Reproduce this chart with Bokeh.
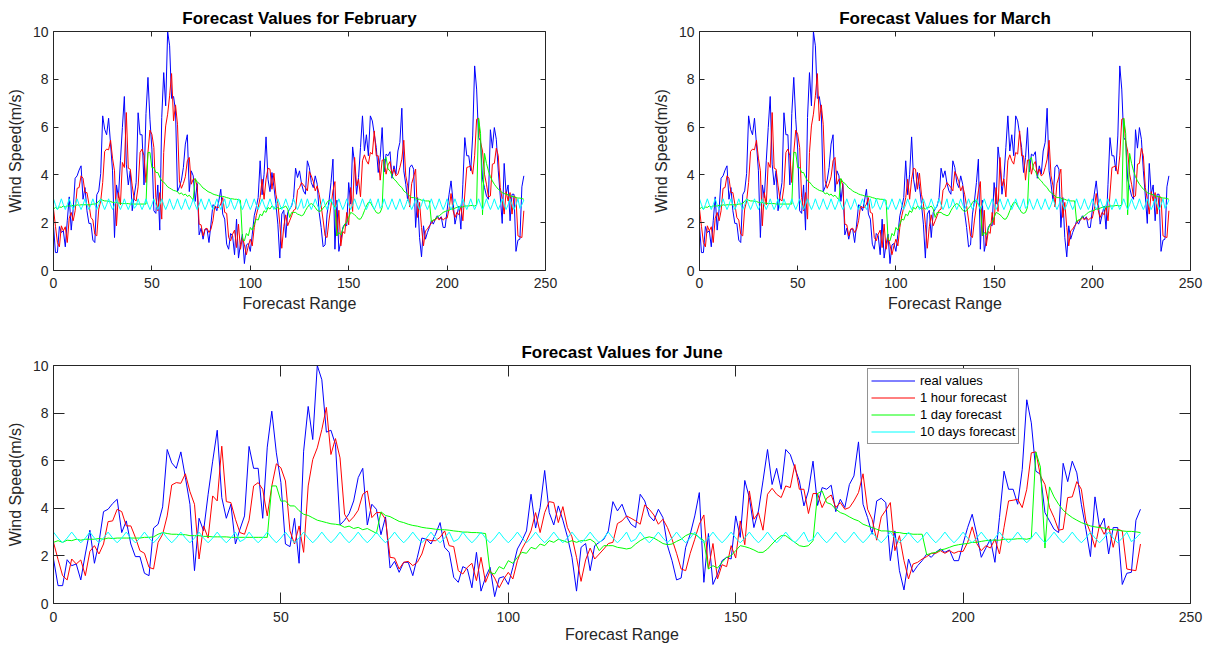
from bokeh.plotting import figure
from bokeh.models import Range1d, LinearAxis, FixedTicker, Legend, LegendItem, CustomJSTickFormatter
from bokeh.layouts import column, row
from bokeh.embed import file_html
from bokeh.resources import INLINE

steps = list(range(240))

real_values = [
    1.87, 0.75, 0.75, 1.84, 1.59, 1.66, 0.99, 2.08, 3.08, 1.69,
    2.57, 3.86, 3.96, 4.20, 4.38, 2.98, 3.47, 2.50, 1.97, 1.97,
    1.27, 1.17, 3.17, 3.33, 4.06, 6.47, 5.91, 5.68, 6.37, 5.29,
    4.17, 1.38, 3.58, 3.05, 4.59, 5.98, 7.28, 4.45, 3.58, 4.17,
    2.50, 3.12, 3.68, 6.60, 5.68, 5.68, 3.58, 6.57, 8.08, 6.33,
    5.08, 2.50, 2.39, 3.58, 1.69, 6.40, 8.28, 6.89, 10.0, 9.40,
    7.20, 7.28, 6.68, 3.30, 3.50, 3.78, 4.31, 5.29, 5.68, 3.30,
    4.17, 3.96, 2.89, 3.64, 1.49, 1.77, 1.31, 1.73, 1.73, 1.17,
    1.94, 2.75, 2.70, 2.50, 2.91, 3.40, 2.36, 2.15, 1.10, 0.89,
    1.55, 1.45, 0.66, 2.15, 0.52, 1.10, 1.52, 0.29, 1.07, 1.13,
    0.80, 1.52, 2.29, 2.64, 3.05, 4.59, 3.17, 4.03, 5.59, 3.82,
    3.30, 4.10, 3.50, 2.80, 1.94, 0.52, 2.36, 2.52, 1.38, 2.43,
    2.57, 2.70, 3.05, 4.28, 3.89, 4.17, 3.65, 3.33, 3.19, 4.59,
    4.31, 3.68, 3.47, 3.96, 3.61, 2.43, 1.80, 0.99, 1.07, 2.36,
    2.91, 3.68, 4.66, 0.89, 2.94, 0.80, 1.24, 1.80, 1.94, 1.87,
    3.68, 2.78, 5.17, 4.45, 3.19, 3.89, 5.15, 6.47, 5.00, 5.68,
    4.80, 6.47, 6.26, 5.70, 5.15, 4.10, 4.73, 5.98, 4.12, 4.87,
    4.80, 4.97, 3.86, 4.38, 4.03, 5.00, 5.36, 6.79, 4.17, 3.61,
    2.91, 4.31, 4.42, 4.24, 1.80, 3.05, 1.38, 0.57, 1.87, 1.31,
    1.59, 1.80, 2.08, 1.94, 2.15, 2.29, 2.15, 2.25, 1.80, 1.80,
    2.52, 3.19, 3.75, 2.91, 1.94, 2.33, 2.70, 1.73, 3.61, 5.56,
    4.80, 4.80, 4.17, 5.63, 8.56, 7.59, 5.56, 5.43, 3.82, 3.47,
    3.12, 2.98, 5.89, 5.12, 5.98, 5.49, 4.17, 3.12, 1.97, 4.48,
    3.19, 3.58, 2.08, 3.19, 3.19, 0.80, 1.27, 1.31, 3.50, 3.96,
]

hour_forecast = [
    2.57, 1.85, 1.17, 0.99, 1.87, 1.66, 1.83, 1.17, 2.19, 2.43,
    2.08, 2.50, 3.44, 3.47, 3.96, 3.86, 3.26, 3.26, 2.78, 2.22,
    2.11, 1.52, 1.45, 2.57, 2.91, 3.68, 4.98, 5.08, 5.05, 5.45,
    4.70, 4.17, 1.87, 3.26, 2.75, 4.52, 4.31, 6.61, 4.28, 4.24,
    3.54, 2.98, 2.91, 3.50, 4.94, 5.08, 4.80, 3.68, 4.94, 5.87,
    5.70, 5.15, 3.05, 2.50, 3.26, 2.15, 4.94, 6.05, 6.54, 7.31,
    8.24, 6.26, 6.93, 6.12, 3.75, 3.44, 3.64, 3.92, 4.59, 4.73,
    3.61, 3.82, 3.82, 3.54, 1.94, 1.91, 1.45, 1.73, 1.77, 1.59,
    1.73, 2.08, 2.70, 2.64, 2.64, 2.78, 3.05, 2.43, 2.39, 1.38,
    1.24, 1.52, 1.69, 0.96, 1.94, 0.89, 1.38, 1.07, 0.66, 1.03,
    1.31, 1.03, 1.80, 2.29, 2.64, 3.05, 3.82, 2.98, 3.82, 4.28,
    4.24, 3.40, 4.07, 3.19, 2.80, 1.94, 0.93, 1.83, 2.33, 1.87,
    2.08, 2.29, 2.52, 2.57, 3.36, 3.47, 3.68, 3.58, 3.47, 3.33,
    4.14, 3.96, 3.72, 3.33, 3.54, 3.19, 2.70, 2.11, 1.45, 1.38,
    2.11, 2.70, 3.33, 3.72, 1.45, 2.52, 1.03, 1.63, 1.55, 2.43,
    1.91, 3.47, 2.47, 4.73, 3.54, 3.82, 3.08, 4.59, 4.84, 4.59,
    4.45, 4.94, 4.87, 5.84, 4.80, 4.80, 3.78, 4.62, 4.62, 4.03,
    4.42, 4.56, 4.03, 4.24, 3.96, 4.03, 4.31, 4.66, 5.45, 3.96,
    3.54, 2.66, 3.64, 3.92, 4.24, 2.22, 2.85, 1.80, 1.03, 1.66,
    1.73, 1.87, 1.97, 2.11, 2.11, 2.22, 2.11, 2.22, 2.11, 2.19,
    2.19, 2.57, 3.22, 2.52, 2.22, 2.43, 2.33, 2.70, 2.08, 3.20,
    4.31, 4.34, 4.38, 4.03, 4.80, 6.33, 6.37, 5.36, 5.00, 4.03,
    3.61, 3.08, 3.12, 4.45, 4.48, 5.12, 4.80, 3.47, 2.98, 2.36,
    3.30, 2.91, 3.26, 2.36, 3.12, 3.05, 1.45, 1.41, 1.38, 2.50,
]

day_forecast = [
    2.57, 2.64, 2.57, 2.66, 2.64, 2.70, 2.66, 2.70, 2.70, 2.70,
    2.73, 2.70, 2.75, 2.73, 2.75, 2.75, 2.75, 2.75, 2.75, 2.75,
    2.78, 2.78, 2.80, 2.91, 2.98, 2.94, 2.91, 2.91, 2.89, 2.89,
    2.85, 2.85, 2.85, 2.82, 2.82, 2.80, 2.80, 2.80, 2.80, 2.78,
    2.78, 2.78, 2.78, 2.78, 2.78, 2.78, 2.78, 2.78, 4.94, 4.94,
    4.30, 4.31, 4.10, 4.10, 3.90, 3.75, 3.70, 3.60, 3.50, 3.45,
    3.40, 3.35, 3.33, 3.30, 3.20, 3.25, 3.15, 3.20, 3.10, 3.15,
    3.05, 2.95, 3.85, 3.70, 3.65, 3.55, 3.45, 3.40, 3.33, 3.28,
    3.25, 3.20, 3.17, 3.15, 3.12, 3.10, 3.10, 3.08, 3.05, 3.03,
    3.00, 3.00, 2.98, 2.98, 2.96, 2.94, 1.30, 1.24, 1.55, 1.45,
    1.80, 1.69, 1.94, 2.15, 2.11, 2.36, 2.29, 2.50, 2.43, 2.64,
    2.57, 2.70, 2.64, 2.57, 2.64, 2.57, 2.64, 2.64, 2.70, 2.57,
    2.22, 2.43, 2.43, 2.43, 2.36, 2.33, 2.29, 2.33, 2.50, 2.64,
    2.75, 2.80, 2.75, 2.64, 2.52, 2.47, 2.50, 2.61, 2.70, 2.85,
    2.94, 2.91, 2.78, 2.64, 1.45, 1.59, 1.49, 1.73, 1.94, 2.01,
    2.22, 2.43, 2.39, 2.33, 2.25, 2.15, 2.15, 2.29, 2.50, 2.70,
    2.85, 2.85, 2.70, 2.57, 2.43, 2.39, 2.43, 2.64, 4.62, 4.73,
    4.24, 4.17, 3.96, 3.82, 3.75, 3.64, 3.54, 3.47, 3.33, 3.26,
    3.19, 3.12, 3.05, 3.05, 3.03, 2.98, 2.98, 2.94, 2.94, 2.91,
    2.91, 2.91, 2.05, 2.11, 2.15, 2.25, 2.29, 2.36, 2.43, 2.47,
    2.50, 2.52, 2.57, 2.57, 2.61, 2.64, 2.66, 2.66, 2.66, 2.70,
    2.70, 2.70, 2.72, 2.72, 2.70, 2.75, 6.37, 5.73, 2.33, 4.90,
    4.48, 4.17, 3.92, 3.75, 3.61, 3.50, 3.40, 3.33, 3.26, 3.22,
    3.19, 3.17, 3.12, 3.10, 3.08, 3.05, 3.03, 3.03, 3.01, 2.98,
]

ten_day_forecast = [
    3.00, 2.75, 2.55, 2.75, 3.00, 2.75, 2.55, 2.75, 3.00, 2.75,
    2.55, 2.75, 3.00, 2.75, 2.55, 2.75, 3.00, 2.75, 2.55, 2.75,
    3.00, 2.75, 2.55, 2.75, 3.00, 2.75, 2.55, 2.75, 3.00, 2.75,
    2.55, 2.75, 3.00, 2.75, 2.55, 2.75, 3.00, 2.75, 2.55, 2.75,
    3.00, 2.60, 2.70, 3.00, 2.75, 2.55, 2.75, 3.00, 2.75, 2.55,
    2.75, 3.00, 2.75, 2.55, 2.75, 3.00, 2.75, 2.55, 2.75, 3.00,
    2.75, 2.55, 2.75, 3.00, 2.75, 2.55, 2.75, 3.00, 2.75, 2.55,
    2.75, 3.00, 2.75, 2.55, 2.75, 3.00, 2.75, 2.55, 2.75, 3.00,
    2.75, 2.55, 2.75, 3.00, 2.75, 2.55, 2.75, 3.00, 2.60, 2.70,
    3.00, 2.75, 2.55, 2.75, 3.00, 2.75, 2.55, 2.75, 3.00, 2.75,
    2.55, 2.75, 3.00, 2.75, 2.55, 2.75, 3.00, 2.75, 2.55, 2.75,
    3.00, 2.75, 2.55, 2.75, 3.00, 2.75, 2.55, 2.75, 3.00, 2.75,
    2.55, 2.75, 3.00, 2.75, 2.55, 2.75, 3.00, 2.60, 2.70, 3.00,
    2.75, 2.55, 2.75, 3.00, 2.75, 2.55, 2.75, 3.00, 2.75, 2.55,
    2.75, 3.00, 2.75, 2.55, 2.75, 3.00, 2.75, 2.55, 2.75, 3.00,
    2.75, 2.55, 2.75, 3.00, 2.75, 2.55, 2.75, 3.00, 2.75, 2.55,
    2.75, 3.00, 2.75, 2.55, 2.75, 3.00, 2.60, 2.70, 3.00, 2.75,
    2.55, 2.75, 3.00, 2.75, 2.55, 2.75, 3.00, 2.75, 2.55, 2.75,
    3.00, 2.75, 2.55, 2.75, 3.00, 2.75, 2.55, 2.75, 3.00, 2.75,
    2.55, 2.75, 3.00, 2.75, 2.55, 2.75, 3.00, 2.75, 2.55, 2.75,
    3.00, 2.75, 2.55, 2.75, 3.00, 2.75, 2.55, 2.75, 3.00, 2.75,
    2.55, 2.75, 3.00, 2.75, 2.55, 2.75, 3.00, 2.75, 2.55, 2.75,
    3.00, 2.75, 2.55, 2.75, 3.00, 2.75, 2.55, 2.75, 3.00, 2.75,
    2.55, 2.75, 3.00, 2.75, 2.55, 2.75, 3.00, 2.60, 2.75, 2.95,
]

titles = ["Forecast Values for February", "Forecast Values for March", "Forecast Values for June"]
series_names = ["real values", "1 hour forecast", "1 day forecast", "10 days forecast"]
series_colors = ["#0000FF", "#FF0000", "#00FF00", "#00FFFF"]
x_ticks = [0, 50, 100, 150, 200, 250]
y_ticks = [0, 2, 4, 6, 8, 10]

FONT = "Liberation Sans"
AX = "#262626"


def style_axis(ax, ticks, tick_len, standoff=5, labels=True):
    ax.ticker = FixedTicker(ticks=ticks)
    ax.major_tick_in = tick_len
    ax.major_tick_out = 0
    ax.minor_tick_in = 0
    ax.minor_tick_out = 0
    ax.minor_tick_line_color = None
    ax.axis_line_color = AX
    ax.axis_line_width = 1
    ax.major_tick_line_color = AX
    ax.major_tick_line_width = 1
    if labels:
        ax.major_label_text_font = FONT
        ax.major_label_text_font_size = "14px"
        ax.major_label_text_color = AX
        ax.major_label_standoff = standoff
    else:
        ax.formatter = CustomJSTickFormatter(code="return ''")
        ax.major_label_text_font_size = "0px"
        ax.major_label_standoff = 0


def make_panel(title, width, height, bl, br, bt, bb, tick_len, xstand, xlab_stand):
    p = figure(width=width, height=height, x_range=Range1d(0, 250), y_range=Range1d(0, 10),
               output_backend="svg", toolbar_location=None, title=title,
               min_border_left=bl, min_border_right=br, min_border_top=bt, min_border_bottom=bb)
    p.grid.visible = False
    p.outline_line_color = None
    p.background_fill_color = "white"
    p.border_fill_color = "white"
    p.title.text_font = FONT
    p.title.text_font_size = "17px"
    p.title.text_font_style = "bold"
    p.title.text_color = "black"
    p.title.align = "center"
    p.title.standoff = 7

    style_axis(p.xaxis[0], x_ticks, tick_len, standoff=xstand)
    style_axis(p.yaxis[0], y_ticks, tick_len, standoff=5)
    p.xaxis.axis_label = "Forecast Range"
    p.xaxis.axis_label_text_font = FONT
    p.xaxis.axis_label_text_font_size = "16px"
    p.xaxis.axis_label_text_font_style = "normal"
    p.xaxis.axis_label_text_color = AX
    p.xaxis.axis_label_standoff = xlab_stand
    p.yaxis.axis_label = "Wind Speed(m/s)"
    p.yaxis.axis_label_text_font = FONT
    p.yaxis.axis_label_text_font_size = "16px"
    p.yaxis.axis_label_text_font_style = "normal"
    p.yaxis.axis_label_text_color = AX
    p.yaxis.axis_label_standoff = 6

    top = LinearAxis()
    style_axis(top, x_ticks, tick_len, labels=False)
    p.add_layout(top, "above")
    right = LinearAxis()
    style_axis(right, y_ticks, tick_len, labels=False)
    p.add_layout(right, "right")

    series = [real_values, hour_forecast, day_forecast, ten_day_forecast]
    renderers = []
    for vals, col in zip(series, series_colors):
        r = p.line(steps, vals, line_color=col, line_width=1)
        renderers.append(r)
    return p, renderers


p1, _ = make_panel(titles[0], 610, 317, 53, 65, 31, 47, 5, 7, 4)
p2, _ = make_panel(titles[1], 594, 317, 89, 14, 31, 47, 5, 7, 4)
p3, rs = make_panel(titles[2], 1204, 330, 53, 14, 48, 44, 11, 8, 1)

legend = Legend(items=[LegendItem(label=n, renderers=[r]) for n, r in zip(series_names, rs)],
                location=(814, 159))
legend.label_text_font = FONT
legend.label_text_font_size = "13px"
legend.label_text_color = "black"
legend.glyph_width = 44
legend.glyph_height = 17
legend.label_height = 17
legend.label_standoff = 5
legend.spacing = 0
legend.padding = 3
legend.margin = 0
legend.border_line_color = AX
legend.border_line_width = 1
legend.background_fill_color = "white"
legend.background_fill_alpha = 1
p3.add_layout(legend)

layout = column(row(p1, p2), p3)
open("out.html", "w").write(file_html(layout, INLINE))
